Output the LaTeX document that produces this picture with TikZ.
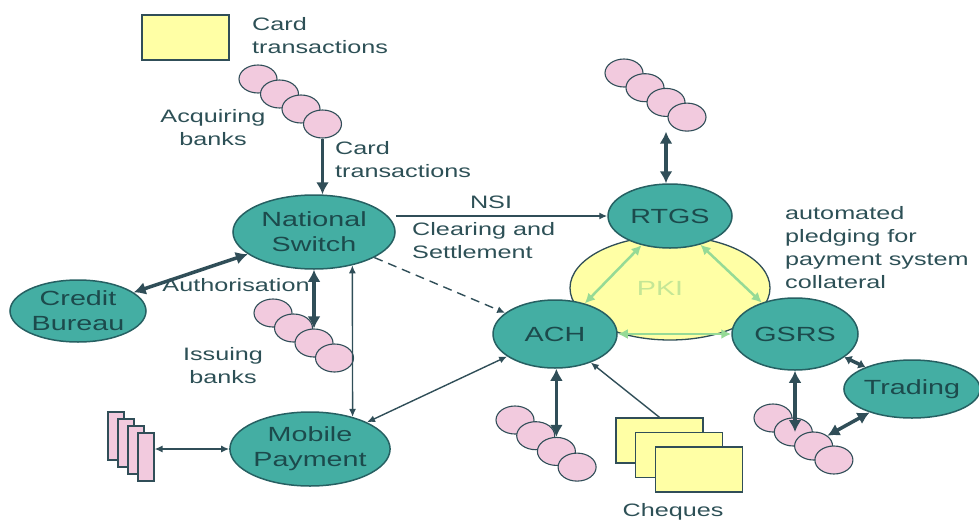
\documentclass[tikz,border=0pt]{standalone}
\usepackage{fontspec}
\setmainfont{Liberation Sans}[FakeStretch=1.4]
\usetikzlibrary{shapes.geometric, arrows.meta}

\definecolor{tealfill}{RGB}{68,174,163}
\definecolor{tealline}{RGB}{38,96,98}
\definecolor{tealtext}{RGB}{28,74,76}
\definecolor{pinkfill}{RGB}{242,202,222}
\definecolor{paleyellow}{RGB}{255,255,165}
\definecolor{inkline}{RGB}{48,78,88}
\definecolor{labeltext}{RGB}{45,80,86}
\definecolor{pkigreen}{RGB}{150,218,150}
\definecolor{pkitext}{RGB}{196,230,150}

\begin{document}
\begin{tikzpicture}[x=1pt, y=-1pt,
    sysnode/.style={ellipse, draw=tealline, line width=1.5pt, fill=tealfill, text=tealtext,
        inner sep=0pt, align=center, font=\fontsize{20.5}{25}\selectfont},
    bank/.style={ellipse, draw=inkline, line width=1.1pt, fill=pinkfill,
        minimum width=38pt, minimum height=28pt, inner sep=0pt},
    docbox/.style={rectangle, draw=inkline, line width=1.3pt, fill=paleyellow,
        minimum width=87pt, minimum height=45pt, inner sep=0pt},
    slip/.style={rectangle, draw=inkline, line width=1.1pt, fill=pinkfill,
        minimum width=16pt, minimum height=48pt, inner sep=0pt},
    lbl/.style={text=labeltext, inner sep=0pt, font=\fontsize{18}{23}\selectfont},
    heavy/.style={draw=inkline, line width=3.5pt, >={Latex[length=12pt,width=13pt]}},
    shortheavy/.style={heavy, >={Latex[length=7pt,width=10pt]}},
    light/.style={draw=inkline, line width=1.4pt, >={Latex[length=8pt,width=7pt]}},
    pki/.style={draw=pkigreen, line width=2.5pt, >={Latex[length=10pt,width=10pt]}},
]
    \useasboundingbox (0,0) rectangle (979,522);

    % Legend
    \node[docbox] (cardkey) at (185.5,37.5) {};
    \node[lbl, anchor=north west, align=left] (cardkeytext) at (252,17) {Card\\transactions};

    % Acquiring banks
    \foreach \i in {0,...,3}
        \node[bank] (acq\i) at (258+21.5*\i, 79+15*\i) {};
    \node[lbl, align=center] (acqtext) at (213,128) {Acquiring\\banks};
    \node[lbl, anchor=north west, align=left] (cardflow) at (335,141) {Card\\transactions};

    % Left hand systems
    \node[sysnode, minimum width=162pt, minimum height=74pt] (ns) at (314,232) {National\\Switch};
    \node[sysnode, minimum width=136pt, minimum height=62pt] (cb) at (78,311) {Credit\\Bureau};
    \node[sysnode, minimum width=160pt, minimum height=74pt] (mp) at (310,449) {Mobile\\Payment};

    % Issuing banks
    \foreach \i in {0,...,3}
        \node[bank] (iss\i) at (273+20.5*\i, 313+15*\i) {};
    \node[lbl] (authtext) at (236,285) {Authorisation};
    \node[lbl, align=center] (isstext) at (223,366) {Issuing\\banks};

    % Mobile handsets
    \foreach \i in {0,...,3}
        \node[slip] (slip\i) at (116+10*\i, 436+7*\i) {};

    % Settlement core
    \node[ellipse, draw=inkline, line width=1.3pt, fill=paleyellow,
        minimum width=200pt, minimum height=104pt] (pki) at (670,288) {};
    \node[font=\fontsize{20.5}{25}\selectfont, text=pkitext, inner sep=0pt] (pkilabel) at (660,288) {PKI};
    \node[sysnode, minimum width=124pt, minimum height=64pt] (rtgs) at (670,216) {RTGS};
    \node[sysnode, minimum width=124pt, minimum height=68pt] (ach) at (555,334) {ACH};
    \node[sysnode, minimum width=126pt, minimum height=72pt] (gsrs) at (795,334) {GSRS};
    \node[sysnode, minimum width=130pt, minimum height=58pt] (trading) at (912,389) {Trading};

    \foreach \i in {0,...,3}
        \node[bank] (rt\i) at (624+21*\i, 73+14.7*\i) {};
    \foreach \i in {0,...,3}
        \node[bank] (achc\i) at (515+20.7*\i, 420+15.7*\i) {};
    \foreach \i in {0,...,3}
        \node[bank] (gsc\i) at (773+20.3*\i, 418+14*\i) {};

    % Cheques
    \foreach \i in {0,1,2}
        \node[docbox] (chq\i) at (659.5+19.8*\i, 440.5+14.5*\i) {};
    \node[lbl] (chqtext) at (673,512) {Cheques};

    % Text round the core
    \node[lbl] (nsitext) at (491,202) {NSI};
    \node[lbl, anchor=north west, align=left] (clrtext) at (412,222) {Clearing and\\Settlement};
    \node[lbl, anchor=north west, align=left] (pledgetext) at (785,206)
        {automated\\pledging for\\payment system\\collateral};

    % Flows
    \draw[heavy,->] (acq3.south) -- (acq3.south |- ns.north);
    \draw[heavy,<->] (cb) -- (ns);
    \draw[heavy,<->] (ns.south) -- (iss2.north);
    \draw[light,<->] (ns.319) -- (mp.37);
    \draw[light,<->] (mp.west -| slip3.east) -- (mp.west);
    \draw[light,<->] (ach) -- (mp);
    \draw[light,->] (ns.east |- rtgs.west) -- (rtgs.west);
    \draw[light,->,dash pattern=on 9pt off 6pt] (ns) -- (ach);
    \draw[light,->] (chq0.north) -- (ach);

    \draw[heavy,<->] (rt2.south |- rt3.south) -- (rt2.south |- rtgs.north);
    \draw[heavy,<->] (achc2.north |- ach.south) -- (achc2.north);
    \draw[heavy,<->] (gsrs.south) -- (gsrs.south |- gsc1.center);
    \draw[shortheavy,<->] (gsrs) -- (trading);
    \draw[heavy,<->] (trading) -- (gsc2.north east);

    % PKI links
    \draw[pki,<->] (rtgs) -- (ach);
    \draw[pki,<->] (rtgs) -- (gsrs);
    \draw[pki,<->] (ach) -- (gsrs);
\end{tikzpicture}
\end{document}
